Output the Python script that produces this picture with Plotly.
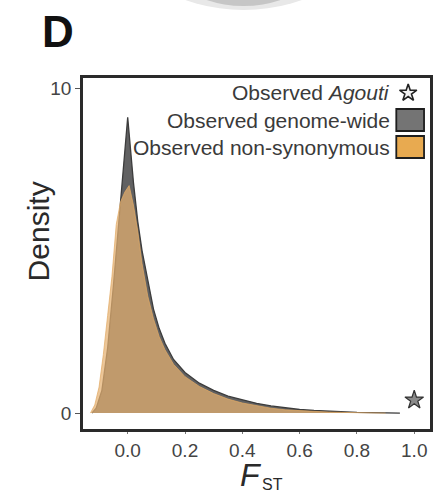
import plotly.graph_objects as go

# Kernel density of F_ST, genome-wide SNPs
fst_genome = [-0.125, -0.11, -0.09, -0.07, -0.05, -0.035, -0.02, -0.01, 0.0, 0.01, 0.02,
              0.035, 0.05, 0.07, 0.09, 0.11, 0.13, 0.16, 0.20, 0.25, 0.30, 0.35, 0.40,
              0.45, 0.50, 0.55, 0.60, 0.65, 0.70, 0.75, 0.80, 0.85, 0.90, 0.95]
dens_genome = [0.0, 0.15, 0.7, 2.0, 3.9, 5.5, 7.1, 8.2, 9.1, 8.1, 7.1,
               5.9, 5.0, 4.1, 3.2, 2.6, 2.15, 1.65, 1.25, 0.92, 0.7, 0.52, 0.4,
               0.3, 0.22, 0.16, 0.11, 0.08, 0.055, 0.035, 0.02, 0.012, 0.006, 0.0]

# Kernel density of F_ST, non-synonymous SNPs
fst_nonsyn = [-0.13, -0.115, -0.10, -0.085, -0.07, -0.055, -0.04, -0.025, -0.01, 0.005,
              0.02, 0.035, 0.05, 0.07, 0.09, 0.11, 0.13, 0.16, 0.20, 0.25, 0.30, 0.35,
              0.40, 0.45, 0.50, 0.55, 0.60, 0.70, 0.80, 0.90]
dens_nonsyn = [0.0, 0.25, 0.8, 1.8, 3.0, 4.2, 5.8, 6.5, 6.8, 7.0,
               6.4, 5.6, 4.6, 3.6, 2.9, 2.35, 1.95, 1.5, 1.12, 0.82, 0.6, 0.43,
               0.31, 0.22, 0.15, 0.1, 0.07, 0.03, 0.012, 0.0]

# Observed Agouti value
agouti_fst = [1.0]
agouti_dens = [0.4]

x_ticks = [0.0, 0.2, 0.4, 0.6, 0.8, 1.0]
x_ticktext = ["0.0", "0.2", "0.4", "0.6", "0.8", "1.0"]
y_ticks = [0, 10]
y_ticktext = ["0", "10"]

legend_labels = ["Observed <i>Agouti</i>", "Observed genome-wide", "Observed non-synonymous"]

W, H = 437, 495
L, R, T, B = 83, 4, 78, 66
PW, PH = W - L - R, H - T - B


def fx(px):
    return (px - L) / PW


def fy(py):
    return (H - B - py) / PH


FONT = "Liberation Sans, Arial, sans-serif"
TXT = "#3a3a3a"

fig = go.Figure()

fig.add_trace(go.Scatter(
    x=fst_genome, y=dens_genome, mode="lines", fill="tozeroy",
    line=dict(color="#3c3c3c", width=1.3),
    fillcolor="rgba(62,62,64,0.82)", showlegend=False, hoverinfo="skip"))

fig.add_trace(go.Scatter(
    x=fst_nonsyn, y=dens_nonsyn, mode="lines", fill="tozeroy",
    line=dict(color="rgba(226,170,100,0.9)", width=0.8),
    fillcolor="rgba(228,176,112,0.72)", showlegend=False, hoverinfo="skip"))

fig.add_trace(go.Scatter(
    x=agouti_fst, y=agouti_dens, mode="markers",
    marker=dict(symbol="star", size=14, color="#8a8a8a", line=dict(color="#333", width=1.2)),
    showlegend=False, hoverinfo="skip"))

# legend star on an overlay axis spanning the plot area
fig.add_trace(go.Scatter(
    x=[fx(411)], y=[fy(93)], xaxis="x2", yaxis="y2", mode="markers",
    marker=dict(symbol="star", size=13, color="#f2f2f2", line=dict(color="#222", width=1.6)),
    showlegend=False, hoverinfo="skip"))

shapes = []
# soft grey disc at the top edge
shapes.append(dict(type="circle", xref="paper", yref="paper",
                   x0=fx(120), x1=fx(370), y0=fy(10), y1=fy(-160),
                   fillcolor="#e8e8e8", line=dict(width=0), layer="below"))
shapes.append(dict(type="circle", xref="paper", yref="paper",
                   x0=fx(145), x1=fx(345), y0=fy(6), y1=fy(-160),
                   fillcolor="#c6c6c6", line=dict(width=0), layer="below"))

row_y = [93, 120, 147]
swatch_fill = [None, "#747474", "#e8aa50"]
for cy, fc in zip(row_y[1:], swatch_fill[1:]):
    shapes.append(dict(type="rect", xref="paper", yref="paper",
                       x0=fx(399), x1=fx(427), y0=fy(cy + 11), y1=fy(cy - 11),
                       fillcolor=fc, line=dict(color="#1e1e1e", width=1.8)))

annotations = []
for lab, cy in zip(legend_labels, row_y):
    annotations.append(dict(text=lab, xref="paper", yref="paper", x=fx(395), y=fy(cy),
                            xanchor="right", yanchor="middle", showarrow=False,
                            font=dict(family=FONT, size=21, color=TXT)))

annotations.append(dict(text="Density", xref="paper", yref="paper", x=fx(38), y=fy(231),
                        xanchor="center", yanchor="middle", textangle=-90, showarrow=False,
                        font=dict(family=FONT, size=30, color="#2a2a2a")))
annotations.append(dict(text="<i>F</i>", xref="paper", yref="paper", x=fx(252), y=fy(495),
                        xanchor="center", yanchor="bottom", showarrow=False,
                        font=dict(family=FONT, size=32, color="#2a2a2a")))
annotations.append(dict(text="ST", xref="paper", yref="paper", x=fx(274), y=fy(495),
                        xanchor="center", yanchor="bottom", showarrow=False,
                        font=dict(family=FONT, size=16, color="#2a2a2a")))
annotations.append(dict(text="<b>D</b>", xref="paper", yref="paper", x=fx(58), y=fy(31),
                        xanchor="center", yanchor="middle", showarrow=False,
                        font=dict(family=FONT, size=44, color="#111")))

fig.update_layout(
    width=W, height=H,
    margin=dict(l=L, r=R, t=T, b=B, pad=0),
    paper_bgcolor="white", plot_bgcolor="white",
    shapes=shapes, annotations=annotations,
    xaxis=dict(range=[-0.156, 1.055], tickvals=x_ticks, ticktext=x_ticktext,
               showgrid=False, zeroline=False, showline=True, mirror=True,
               linecolor="#2a2a2a", linewidth=2.5, ticks="outside", ticklen=2,
               tickcolor="#777", tickfont=dict(family=FONT, size=19, color="#444")),
    yaxis=dict(range=[-0.49, 10.31], tickvals=y_ticks, ticktext=y_ticktext,
               showgrid=False, zeroline=False, showline=True, mirror=True,
               linecolor="#2a2a2a", linewidth=2.5, ticks="outside", ticklen=5,
               tickcolor="#555", tickfont=dict(family=FONT, size=19, color="#444")),
    xaxis2=dict(range=[0, 1], overlaying="x", visible=False, fixedrange=True),
    yaxis2=dict(range=[0, 1], overlaying="y", visible=False, fixedrange=True),
)

fig.write_html("out.html")
